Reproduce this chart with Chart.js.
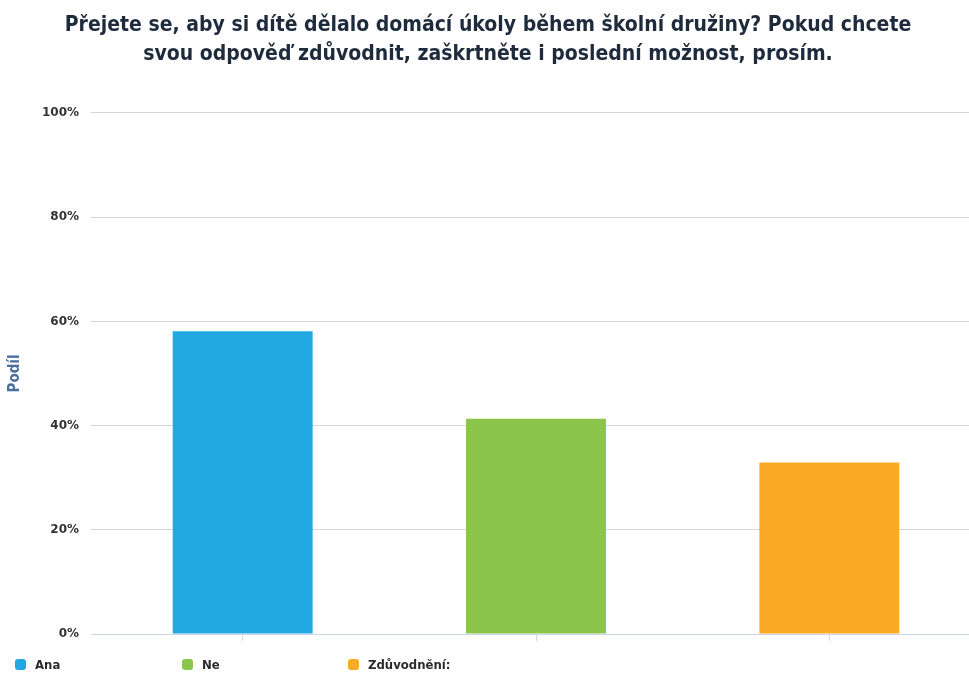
<!DOCTYPE html>
<html>
<head>
<meta charset="utf-8">
<script src="https://cdn.jsdelivr.net/npm/chart.js@4"></script>
<style>
  html, body { margin: 0; padding: 0; background: #fff; overflow: hidden; }
  #wrap { position: relative; width: 976px; height: 674px; }
  #legend { position: absolute; left: 0; top: 655px; width: 969px; height: 19px;
            font: bold 13px "DejaVu Sans Condensed", "DejaVu Sans", sans-serif; color: #2b2b2b; }
  #legend .item { position: absolute; top: 2px; white-space: nowrap; }
  #legend .dot { display: inline-block; width: 11px; height: 11px; border-radius: 3px;
                 vertical-align: -1px; margin-right: 9px; }
</style>
</head>
<body>
<div id="wrap">
  <canvas id="chart" width="976" height="674"></canvas>
  <div id="legend"></div>
</div>
<script>
const categories = ['Ana', 'Ne', 'Zdůvodnění:'];
const shares = [58.1, 41.3, 32.9];
const barColors = ['#21a8e0', '#8bc54b', '#fbaa26'];
const yTicks = [0, 20, 40, 60, 80, 100];
const titleLines = [
  'Přejete se, aby si dítě dělalo domácí úkoly během školní družiny? Pokud chcete',
  'svou odpověď zdůvodnit, zaškrtněte i poslední možnost, prosím.'
];

const legendX = [15, 182, 348];
const legend = document.getElementById('legend');
categories.forEach((c, i) => {
  const el = document.createElement('span');
  el.className = 'item';
  el.style.left = legendX[i] + 'px';
  el.innerHTML = '<span class="dot" style="background:' + barColors[i] + '"></span>' + c;
  legend.appendChild(el);
});

const ctx = document.getElementById('chart');
new Chart(ctx, {
  type: 'bar',
  data: {
    labels: categories,
    datasets: [{
      data: shares,
      backgroundColor: barColors,
      borderWidth: 0,
      barPercentage: 0.477,
      categoryPercentage: 1
    }]
  },
  options: {
    responsive: false,
    animation: false,
    layout: { padding: { left: 0, right: 0, top: 0, bottom: 33 } },
    plugins: {
      legend: { display: false },
      tooltip: { enabled: false },
      title: {
        display: true,
        text: titleLines,
        color: '#1d2b3c',
        font: { family: '"DejaVu Sans Condensed", "DejaVu Sans", sans-serif', size: 21, weight: 'bold', lineHeight: 1.38 },
        padding: { top: 11, bottom: 44 }
      }
    },
    scales: {
      x: {
        grid: { offset: false, drawOnChartArea: false, drawTicks: true, tickLength: 7, color: '#ccd6eb' },
        border: { color: '#ccd6eb', width: 1 },
        ticks: { display: false }
      },
      y: {
        min: 0,
        max: 100,
        afterBuildTicks: s => { s.ticks = yTicks.map(v => ({ value: v })); },
        afterFit: s => { s.width = 96; },
        grid: { color: '#d6d6d6', tickLength: 5 },
        border: { display: false },
        ticks: {
          padding: 12,
          color: '#333',
          font: { family: '"DejaVu Sans", sans-serif', size: 12, weight: 'bold' },
          callback: v => v + '%'
        },
        title: {
          display: true,
          text: 'Podíl',
          color: '#4a6f9c',
          font: { family: '"DejaVu Sans Condensed", "DejaVu Sans", sans-serif', size: 15, weight: 'bold' },
          padding: { top: 6, bottom: 0 }
        }
      }
    }
  }
});
</script>
</body>
</html>
